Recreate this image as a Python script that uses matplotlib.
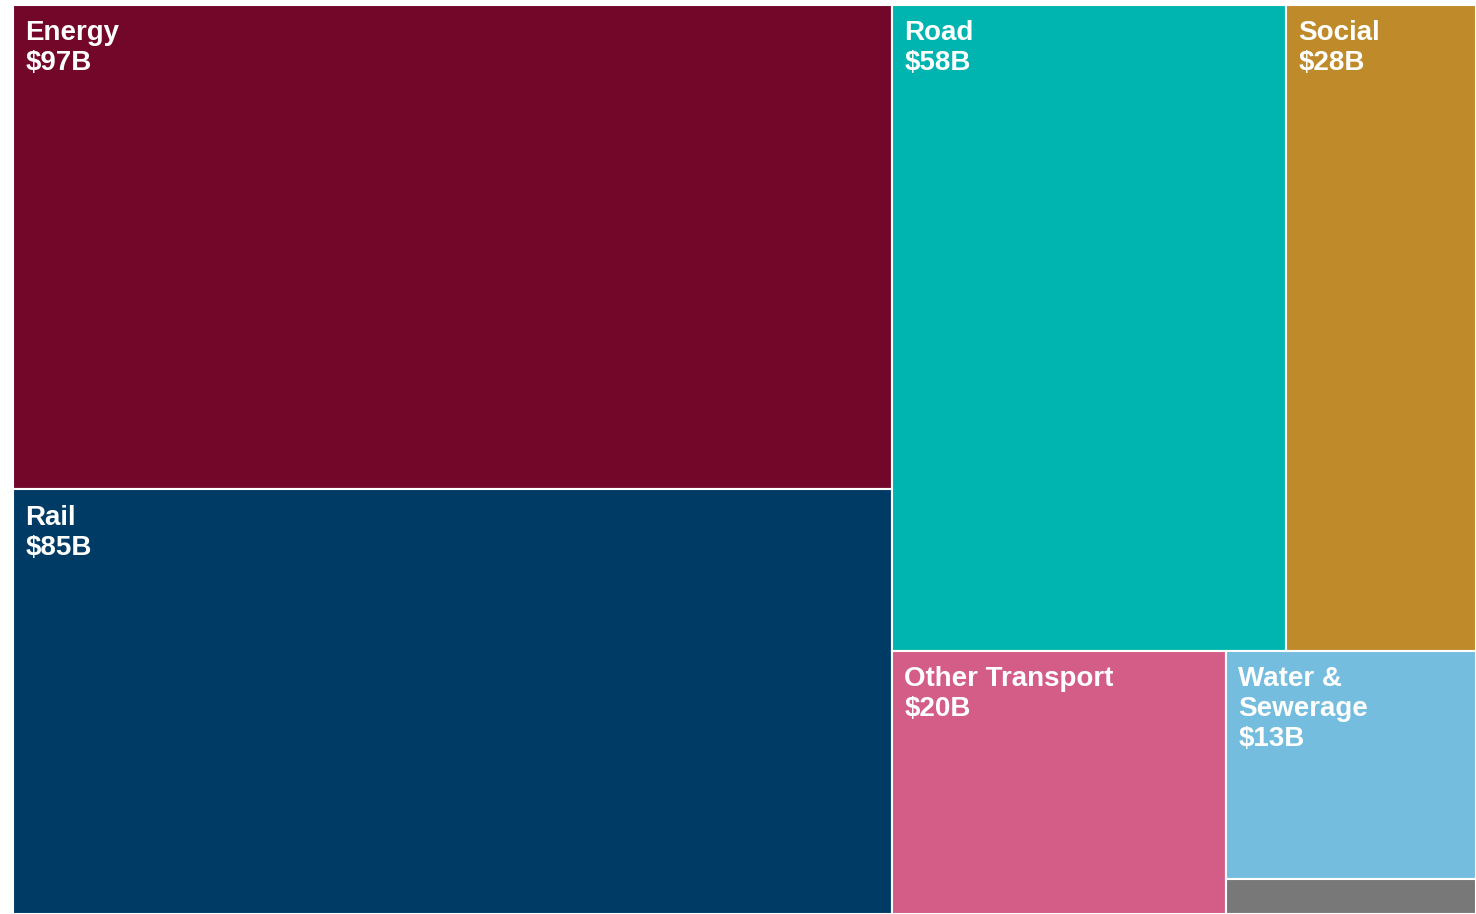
import matplotlib.pyplot as plt
from matplotlib.patches import Rectangle

# sector values, $B
sectors = ['Energy', 'Rail', 'Road', 'Social', 'Other Transport', 'Water & Sewerage', 'Other']
values = [97, 85, 58, 28, 20, 13, 2]
labels = ['Energy\n$97B', 'Rail\n$85B', 'Road\n$58B', 'Social\n$28B',
          'Other Transport\n$20B', 'Water &\nSewerage\n$13B', '']
colors = ['#730729', '#003B66', '#00B5B0', '#BE8A2A', '#D35D87', '#75BDDE', '#787878']

# nesting of the treemap: (direction, children); leaves are indexes into values
# 'h' splits left->right, 'v' splits top->bottom
layout = ('h', [('v', [0, 1]),
                ('v', [('h', [2, 3]),
                       ('h', [4, ('v', [5, 6])])])])


def node_total(node):
    if isinstance(node, int):
        return values[node]
    return sum(node_total(c) for c in node[1])


def place(node, x, y, w, h, out):
    # y is the top edge, boxes go downward
    if isinstance(node, int):
        out[node] = (x, y, w, h)
        return
    direction, children = node
    tot = node_total(node)
    pos = 0.0
    for c in children:
        frac = node_total(c) / tot
        if direction == 'h':
            place(c, x + pos * w, y, w * frac, h, out)
        else:
            place(c, x, y - pos * h, w, h * frac, out)
        pos += frac


W, H = 1463.0, 909.0
rects = {}
place(layout, 0, H, W, H, rects)

fig = plt.figure(figsize=(14.76, 9.14), dpi=100)
ax = fig.add_axes([13 / 1476., 0, 1463 / 1476., 909 / 914.])

for i in range(len(values)):
    x, ytop, w, h = rects[i]
    ax.add_patch(Rectangle((x, ytop - h), w, h, facecolor=colors[i],
                           edgecolor='white', linewidth=1.5))
    if labels[i]:
        ax.annotate(labels[i], xy=(x, ytop), xytext=(9, -11),
                    textcoords='offset points', ha='left', va='top',
                    color='white', fontsize=20, fontweight='bold',
                    family='Liberation Sans', linespacing=1.2)

ax.set_xlim(0, W)
ax.set_ylim(0, H)
ax.axis('off')

plt.savefig('out.png', dpi=100)
